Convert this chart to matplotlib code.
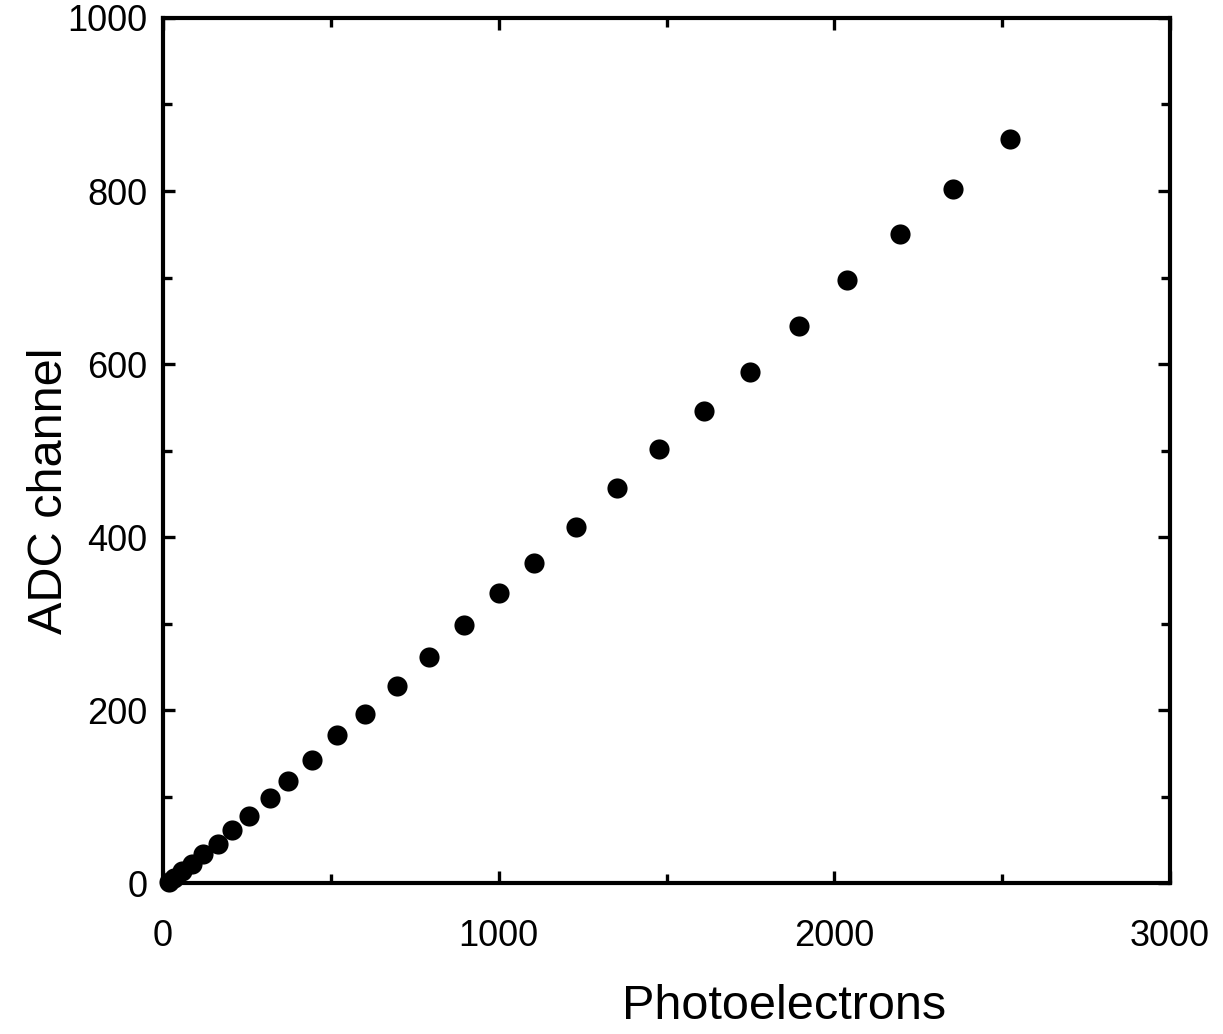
import matplotlib
matplotlib.use("Agg")
import matplotlib.pyplot as plt
from matplotlib.ticker import MultipleLocator

plt.rcParams['font.family'] = ['Liberation Sans', 'DejaVu Sans']

# Measured ADC response versus number of photoelectrons
photoelectrons = [18, 33, 57, 86, 119, 164, 206, 256, 319, 372, 444, 518,
                  602, 697, 792, 897, 1001, 1105, 1230, 1352, 1478, 1612,
                  1749, 1895, 2037, 2195, 2353, 2523]
adc_channel = [1, 6, 14, 22, 34, 45, 61, 77, 98, 118, 142, 171,
               195, 228, 261, 298, 335, 370, 412, 457, 502, 546,
               591, 644, 697, 750, 802, 860]

x_ticks = [0, 1000, 2000, 3000]
y_ticks = [0, 200, 400, 600, 800, 1000]

fig = plt.figure(figsize=(12.23, 10.34), dpi=100)
ax = fig.add_axes([0.1333, 0.146, 0.8234, 0.8366])

ax.plot(photoelectrons, adc_channel, 'o', color='black', markersize=14.5,
        markeredgewidth=0, clip_on=False, zorder=3)

ax.set_xlim(0, 3000)
ax.set_ylim(0, 1000)
ax.set_xticks(x_ticks)
ax.set_yticks(y_ticks)
ax.xaxis.set_minor_locator(MultipleLocator(500))
ax.yaxis.set_minor_locator(MultipleLocator(100))

ax.tick_params(which='both', direction='in', top=True, right=True, width=2.4)
ax.tick_params(which='major', length=8.5)
ax.tick_params(which='minor', length=6.5)
ax.tick_params(axis='x', which='major', pad=26, labelsize=26)
ax.tick_params(axis='y', which='major', pad=11, labelsize=26)

for s in ax.spines.values():
    s.set_linewidth(3)

ax.set_xlabel('Photoelectrons', fontsize=35)
ax.xaxis.set_label_coords(0.617, -0.117)
ax.set_ylabel('ADC channel', fontsize=35)
ax.yaxis.set_label_coords(-0.090, 0.454)

fig.savefig('out.png', dpi=100, facecolor='white')
